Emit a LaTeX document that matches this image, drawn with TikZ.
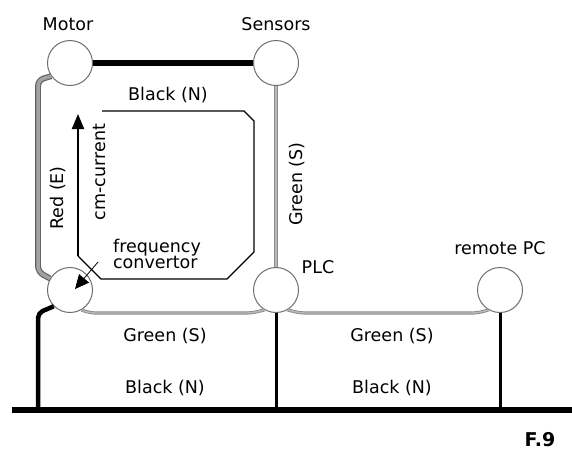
\documentclass[tikz,border=0pt]{standalone}
\usepackage{fontspec}
\setmainfont{DejaVu Sans}
\usetikzlibrary{arrows.meta, positioning}
\definecolor{wiregray}{RGB}{140, 140, 140}
\definecolor{wirelight}{RGB}{185, 185, 185}
\definecolor{ringgray}{RGB}{110, 110, 110}
\tikzset{
  dev/.style      = {circle, draw=ringgray, line width=1pt, fill=white, minimum size=45pt, inner sep=0pt},
  lbl/.style      = {font=\fontsize{17.5}{19}\selectfont, inner sep=1pt},
  wireN/.style    = {black, line width=5.5pt},
  wireNthin/.style= {black, line width=3pt},
  wireE/.style    = {draw=wiregray!70!black, double=wiregray!80, double distance=3.5pt, line width=1.2pt, rounded corners=6pt},
  wireS/.style    = {draw=wiregray, double=wirelight, double distance=1.4pt, line width=0.9pt, rounded corners=6pt},
  cmbox/.style    = {black, line width=1.2pt},
  cmarrow/.style  = {-{Triangle[length=15pt,width=12pt]}, black, line width=2pt},
  pointer/.style  = {-{Triangle[length=14pt,width=13pt]}, black, line width=0.8pt},
}
\begin{document}
\begin{tikzpicture}[x=1pt, y=-1pt]
\useasboundingbox[fill=white] (0,0) rectangle (572,456);

% Geraete
\node[dev] (motor)   at (70,63)  {};
\node[dev] (sensors) at (276,63) {};
\node[dev] (conv)    at (70,290) {};
\node[dev] (plc)     at (276,290) {};
\node[dev] (rpc)     at (500,290) {};

% Beschriftungen der Geraete
\node[lbl] at (68,24)  {Motor};
\node[lbl] at (276,24) {Sensors};
\node[lbl] at (318,267) {PLC};
\node[lbl] at (500,248) {remote PC};
\node[lbl, align=left] (convlbl) at (157,254) {frequency\\[-3pt]convertor};

% Sammelschiene N
\coordinate (busL) at (12,410);
\coordinate (busR) at (572,410);
\coordinate (busA) at (38,410);
\draw[wireN] (busL) -- (busR);

% Leitungen
\draw[wireN] (motor) -- (sensors);
\draw[wireE] (motor.215) -- (38,80) -- (38,272) -- (conv.150);
\draw[wireS] (sensors) -- (plc);
\draw[wireS] (conv.300) -- (90,313) -- (252,313) -- (plc.240);
\draw[wireS] (plc.300) -- (300,313) -- (478,313) -- (rpc.240);
\draw[wireN, line width=4.5pt, rounded corners=5pt] (conv.225) -- (38,313) -- (busA);
\draw[wireNthin] (plc.south) -- (plc |- busL);
\draw[wireNthin] (rpc.south) -- (rpc |- busL);

% Leitungsfarben
\node[lbl] at (168,95)  {Black (N)};
\node[lbl, rotate=90] at (58,198)  {Red (E)};
\node[lbl, rotate=90] at (297,184) {Green (S)};
\node[lbl] at (165,336) {Green (S)};
\node[lbl] at (165,388) {Black (N)};
\node[lbl] at (392,336) {Green (S)};
\node[lbl] at (392,388) {Black (N)};

% cm-current Schleife
\draw[cmbox] (78,256) -- (101,279) -- (227,279) -- (254,252) -- (254,121) -- (244,111) -- (102,111);
\draw[cmarrow] (78,256) -- (78,114);
\node[lbl, rotate=90] at (99,172) {cm-current};
\draw[pointer] (98,262) -- (75,289);

\node[font=\fontsize{19}{21}\selectfont\bfseries] at (540,440) {F.9};

\end{tikzpicture}
\end{document}
